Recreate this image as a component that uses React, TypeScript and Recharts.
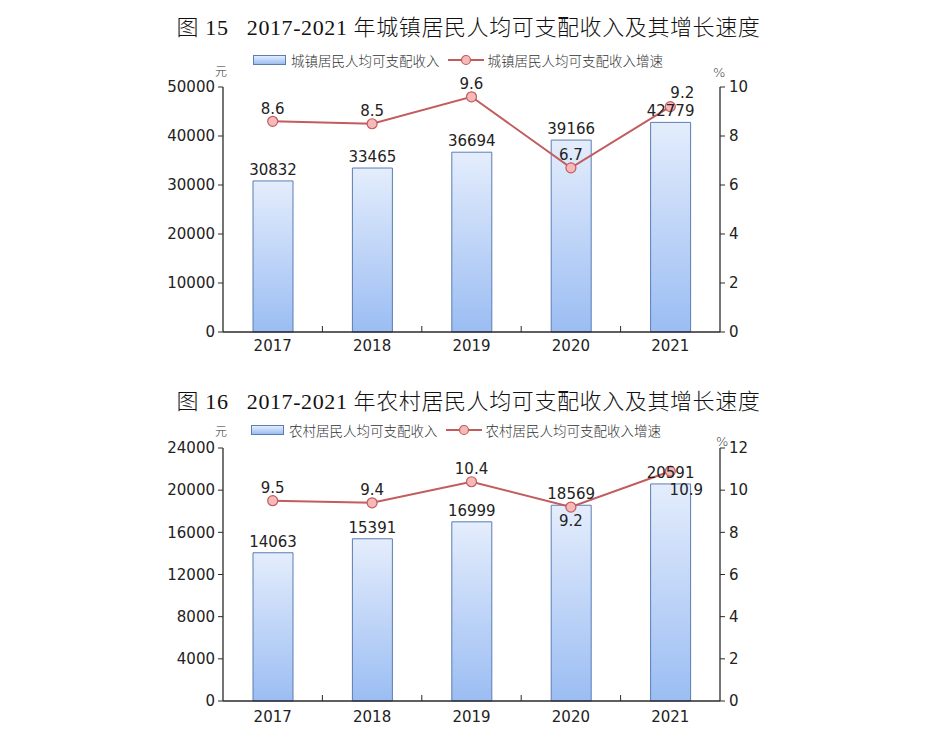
import { ComposedChart, Bar, Line, XAxis, YAxis, LabelList } from "recharts";

const years = ["2017", "2018", "2019", "2020", "2021"];

const urbanIncome = [30832, 33465, 36694, 39166, 42779];
const urbanGrowth = [8.6, 8.5, 9.6, 6.7, 9.2];
const urbanIncomeTicks = [0, 10000, 20000, 30000, 40000, 50000];
const urbanGrowthTicks = [0, 2, 4, 6, 8, 10];

const ruralIncome = [14063, 15391, 16999, 18569, 20591];
const ruralGrowth = [9.5, 9.4, 10.4, 9.2, 10.9];
const ruralIncomeTicks = [0, 4000, 8000, 12000, 16000, 20000, 24000];
const ruralGrowthTicks = [0, 2, 4, 6, 8, 10, 12];

// where each growth label sits relative to its point [dx, dy]
const urbanGrowthLabelOffsets = [[0, -12], [0, -12], [0, -12], [0, -12], [12, -13]];
const ruralGrowthLabelOffsets = [[0, -12], [0, -12], [0, -12], [0, 14], [16, 19]];

const W = 939;
const LEFT = 223;
const RIGHT = 720;
const NUM_FONT = "'DejaVu Sans', Verdana, sans-serif";
const NUM_SIZE = 15;
const CJK_FONT = "'Noto Sans CJK SC', sans-serif";
const TITLE_FONT = "'Liberation Serif', 'Noto Sans CJK SC', serif";
const LINE_COLOR = "#c25c5e";
const AXIS_COLOR = "#2a2a2a";

interface PanelProps {
  id: string;
  top: number;
  height: number;
  plotTop: number;
  plotBottom: number;
  tickMargin: number;
  income: number[];
  growth: number[];
  incomeTicks: number[];
  growthTicks: number[];
  offsets: number[][];
}

function Panel(p: PanelProps) {
  const data = years.map((y, i) => ({ year: y, income: p.income[i], growth: p.growth[i] }));
  const band = (RIGHT - LEFT) / years.length;
  const xAxisH = 30;

  const renderXTick = (props: any) => {
    const { x, y, payload, index } = props;
    const axisY = y - p.tickMargin;
    return (
      <g>
        <text x={x} y={y} dy="0.71em" textAnchor="middle" fill="#222" fontSize={NUM_SIZE} fontFamily={NUM_FONT}>
          {payload.value}
        </text>
        {index < years.length - 1 && (
          <line x1={x + band / 2} x2={x + band / 2} y1={axisY} y2={axisY - 6} stroke={AXIS_COLOR} strokeWidth={1} />
        )}
      </g>
    );
  };

  const renderGrowthLabel = (props: any) => {
    const { x, y, value, index } = props;
    const [dx, dy] = p.offsets[index];
    return (
      <text x={x + dx} y={y + dy} textAnchor="middle" dominantBaseline="middle" fill="#222" fontSize={NUM_SIZE} fontFamily={NUM_FONT}>
        {value}
      </text>
    );
  };

  return (
    <div style={{ position: "absolute", left: 0, top: p.top }}>
      <ComposedChart
        width={W}
        height={p.height}
        data={data}
        margin={{ top: p.plotTop, right: 0, left: 0, bottom: p.height - p.plotBottom - xAxisH }}
      >
        <defs>
          <linearGradient id={p.id + "grad"} x1="0" y1="0" x2="0" y2="1">
            <stop offset="0%" stopColor="#e4edfc" />
            <stop offset="100%" stopColor="#9bbdf3" />
          </linearGradient>
        </defs>
        <XAxis
          dataKey="year"
          height={xAxisH}
          tickSize={0}
          tickMargin={p.tickMargin}
          tick={renderXTick}
          axisLine={{ stroke: AXIS_COLOR, strokeWidth: 1.3 }}
        />
        <YAxis
          yAxisId="left"
          width={LEFT}
          domain={[p.incomeTicks[0], p.incomeTicks[p.incomeTicks.length - 1]]}
          ticks={p.incomeTicks}
          interval={0}
          tickSize={5}
          tickMargin={3}
          tick={{ fill: "#222", fontSize: NUM_SIZE, fontFamily: NUM_FONT }}
          axisLine={{ stroke: AXIS_COLOR, strokeWidth: 1.3 }}
          tickLine={{ stroke: AXIS_COLOR }}
        />
        <YAxis
          yAxisId="right"
          orientation="right"
          width={W - RIGHT}
          domain={[p.growthTicks[0], p.growthTicks[p.growthTicks.length - 1]]}
          ticks={p.growthTicks}
          interval={0}
          tickSize={5}
          tickMargin={4}
          tick={{ fill: "#222", fontSize: NUM_SIZE, fontFamily: NUM_FONT }}
          axisLine={{ stroke: AXIS_COLOR, strokeWidth: 1.3 }}
          tickLine={{ stroke: AXIS_COLOR }}
        />
        <Bar
          yAxisId="left"
          dataKey="income"
          barSize={40}
          fill={`url(#${p.id}grad)`}
          stroke="#5b7db3"
          strokeWidth={1}
          isAnimationActive={false}
        >
          <LabelList dataKey="income" position="top" offset={6} fill="#222" fontSize={NUM_SIZE} fontFamily={NUM_FONT} />
        </Bar>
        <Line
          yAxisId="right"
          dataKey="growth"
          stroke={LINE_COLOR}
          strokeWidth={2}
          dot={{ r: 5, fill: "#f6b9b9", stroke: LINE_COLOR, strokeWidth: 1.2 }}
          isAnimationActive={false}
        >
          <LabelList dataKey="growth" content={renderGrowthLabel} />
        </Line>
      </ComposedChart>
    </div>
  );
}

function LegendRow({ top, left, barText, lineText }: { top: number; left: number; barText: string; lineText: string }) {
  const text = { fontFamily: CJK_FONT, fontSize: 13.5, fontWeight: 300, color: "#333", lineHeight: "16px" };
  return (
    <div style={{ position: "absolute", top, left, display: "flex", alignItems: "center", whiteSpace: "nowrap" }}>
      <span style={{ width: 31, height: 8, border: "1px solid #5b7db3", background: "linear-gradient(#e4edfc, #9bbdf3)", marginRight: 5 }} />
      <span style={text}>{barText}</span>
      <svg width={36} height={12} style={{ marginLeft: 8, marginRight: 4 }}>
        <line x1={0} x2={36} y1={6} y2={6} stroke={LINE_COLOR} strokeWidth={2} />
        <circle cx={18} cy={6} r={4.5} fill="#f6b9b9" stroke={LINE_COLOR} strokeWidth={1.2} />
      </svg>
      <span style={text}>{lineText}</span>
    </div>
  );
}

export default function App() {
  const title = { position: "absolute" as const, left: 0, width: W - 2, textAlign: "center" as const, fontFamily: TITLE_FONT, fontSize: 22, fontWeight: 300, color: "#111", whiteSpace: "pre" as const, letterSpacing: 0.6 };
  const unit = { position: "absolute" as const, fontFamily: CJK_FONT, fontSize: 12, fontWeight: 300, color: "#333" };
  return (
    <div style={{ position: "absolute", left: 0, top: 0, width: W, height: 742, background: "#fff" }}>
      <div style={{ ...title, top: 9 }}>{"图 15   2017-2021 年城镇居民人均可支配收入及其增长速度"}</div>
      <LegendRow top={52} left={253} barText="城镇居民人均可支配收入" lineText="城镇居民人均可支配收入增速" />
      <div style={{ ...unit, left: 215, top: 62 }}>元</div>
      <div style={{ ...unit, left: 713, top: 65, fontFamily: NUM_FONT, fontSize: 13 }}>%</div>
      <Panel
        id="urban"
        top={0}
        height={372}
        plotTop={87}
        plotBottom={332}
        tickMargin={8}
        income={urbanIncome}
        growth={urbanGrowth}
        incomeTicks={urbanIncomeTicks}
        growthTicks={urbanGrowthTicks}
        offsets={urbanGrowthLabelOffsets}
      />

      <div style={{ ...title, top: 383 }}>{"图 16   2017-2021 年农村居民人均可支配收入及其增长速度"}</div>
      <LegendRow top={422} left={251} barText="农村居民人均可支配收入" lineText="农村居民人均可支配收入增速" />
      <div style={{ ...unit, left: 215, top: 422 }}>元</div>
      <div style={{ ...unit, left: 716, top: 434, fontFamily: NUM_FONT, fontSize: 13 }}>%</div>
      <Panel
        id="rural"
        top={370}
        height={372}
        plotTop={78}
        plotBottom={331}
        tickMargin={10}
        income={ruralIncome}
        growth={ruralGrowth}
        incomeTicks={ruralIncomeTicks}
        growthTicks={ruralGrowthTicks}
        offsets={ruralGrowthLabelOffsets}
      />
    </div>
  );
}
